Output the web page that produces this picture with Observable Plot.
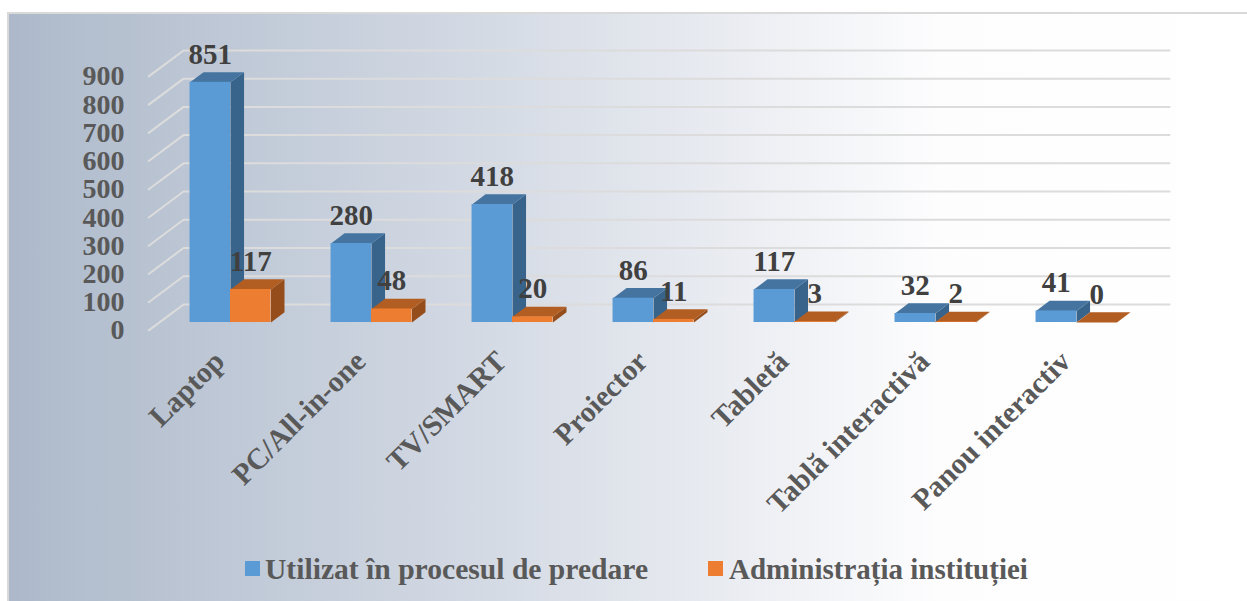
<!DOCTYPE html>
<html><head><meta charset="utf-8">
<script src="https://cdn.jsdelivr.net/npm/d3@7"></script>
<script src="https://cdn.jsdelivr.net/npm/@observablehq/plot@0.6"></script>
<style>
html,body{margin:0;padding:0;background:#fff}
#frame{position:absolute;left:7px;top:12px;width:1240px;height:589px;box-sizing:border-box;border-top:2px solid #d9d9d9;border-left:2px solid #d9d9d9;
background:linear-gradient(90deg,#adb9ca 0%,#d0d7e2 35%,#e6e9ef 55%,#fdfdfe 75%,#ffffff 100%)}
#chart{position:absolute;left:0;top:0}
#chart svg{background:transparent;display:block}
.key{position:absolute;font:bold 29.6px "Liberation Serif",serif;color:#595959;white-space:nowrap;line-height:30px}
.sw{position:absolute;width:15px;height:15px}
</style></head><body>
<div id="frame"></div>
<div id="chart"></div>
<div class="sw" style="left:245px;top:561px;background:#5b9bd5"></div>
<div class="key" style="left:265px;top:554px" id="k0"></div>
<div class="sw" style="left:708px;top:561px;background:#ed7d31"></div>
<div class="key" style="left:729px;top:554px;font-size:29px" id="k1"></div>
<script>
const categories=["Laptop","PC/All-in-one","TV/SMART","Proiector","Tabletă","Tablă interactivă","Panou interactiv"];
const teaching=[851,280,418,86,117,32,41];
const admin=[117,48,20,11,3,2,0];
const yTicks=[0,100,200,300,400,500,600,700,800,900];
const seriesNames=["Utilizat în procesul de predare","Administrația instituției"];
const palettes=[{front:"#5b9bd5",top:"#44749f",side:"#38648c"},{front:"#ed7d31",top:"#b25d21",side:"#954e1b"}];

const barW=0.287, depthX=0.096, depthY=36;
const floorFront={x:-0.58,y:-28}, floorBack={x:-0.333,y:64}, floorEnd=6.66;

document.getElementById("k0").textContent=seriesNames[0];
document.getElementById("k1").textContent=seriesNames[1];

function barMarks(values,p,offset){
  const sides=[],tops=[];
  values.forEach((v,i)=>{
    const a=i+offset, b=a+barW;
    [[b,0],[b+depthX,depthY],[b+depthX,v+depthY],[b,v]].forEach(([x,y])=>sides.push({i,x,y}));
    [[a,v],[a+depthX,v+depthY],[b+depthX,v+depthY],[b,v]].forEach(([x,y])=>tops.push({i,x,y}));
  });
  return [
    Plot.line(sides,{x:"x",y:"y",z:"i",fill:p.side,stroke:null,curve:"linear"}),
    Plot.line(tops,{x:"x",y:"y",z:"i",fill:p.top,stroke:null,curve:"linear"}),
    Plot.rect(values,{x1:(d,i)=>i+offset,x2:(d,i)=>i+offset+barW,y1:0,y2:d=>d,fill:p.front})
  ];
}
function labels(values,offset){
  return Plot.text(values,{x:(d,i)=>i+offset+barW/2,y:d=>d,text:d=>String(d),dy:-28,lineAnchor:"middle",
    fontSize:29,fontWeight:"bold",fontFamily:"Liberation Serif",fill:"#404040"});
}
const wallLines=yTicks.flatMap(t=>[{t,x:floorFront.x,y:t+floorFront.y},{t,x:floorBack.x,y:t+floorBack.y},{t,x:floorEnd,y:t+floorBack.y}]);

const plot=Plot.plot({
  width:1247,height:540,marginLeft:124,marginRight:0,marginTop:0,marginBottom:190,
  style:{background:"transparent"},
  x:{domain:[-1,7],range:[89,1217]},
  y:{domain:[0,900],range:[322,322-254]},
  marks:[
    Plot.line(wallLines,{x:"x",y:"y",z:"t",stroke:"#dcdcdc",strokeWidth:2,curve:"linear"}),
    ...barMarks(teaching,palettes[0],-barW),
    ...barMarks(admin,palettes[1],0),
    labels(teaching,-barW),
    labels(admin,0),
    Plot.axisY(yTicks,{anchor:"left",tickSize:0,tickPadding:0,dy:8,label:null,fontSize:28,fontWeight:"bold",fontFamily:"Liberation Serif",fill:"#595959",tickFormat:d=>String(d)}),
    Plot.axisX(d3.range(categories.length),{anchor:"bottom",tickSize:0,tickPadding:0,tickRotate:-45,label:null,dx:-11,dy:6,tickFormat:i=>categories[i],fontSize:29.6,fontWeight:"bold",fontFamily:"Liberation Serif",fill:"#595959"})
  ]
});
document.getElementById("chart").appendChild(plot);
</script>
</body></html>
